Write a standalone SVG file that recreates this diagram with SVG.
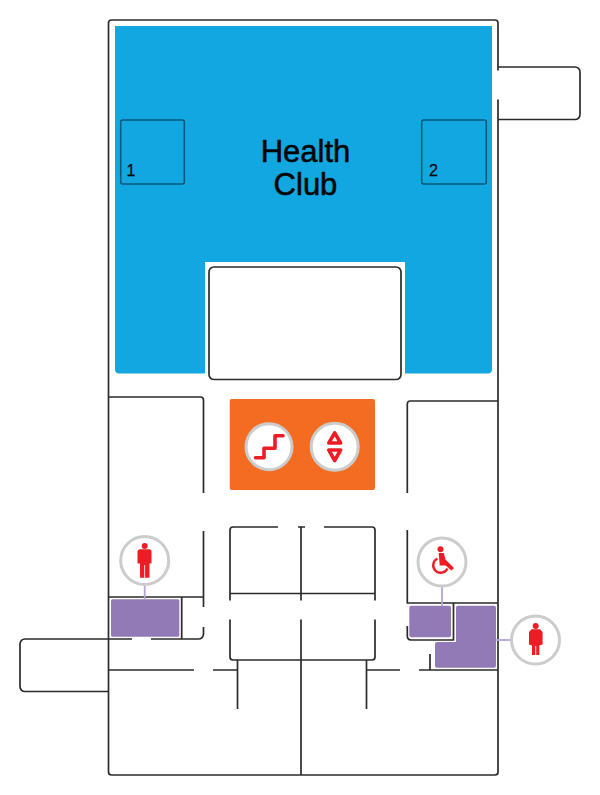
<svg xmlns="http://www.w3.org/2000/svg" width="600" height="795" viewBox="0 0 600 795">
<style>
.w{fill:none;stroke:#2b2b2b;stroke-width:1.7;stroke-linejoin:round}
.c{fill:#fff;stroke:#cccccc;stroke-width:3}
.r{fill:#ee1c25}
.l{fill:none;stroke:#ee1c25;stroke-width:3.600;stroke-linejoin:round;stroke-linecap:round}
.p{fill:#927ab7}
.k{fill:none;stroke:#b5a5d3;stroke-width:1.8}
.t{font-family:"Liberation Sans",Arial,sans-serif;fill:#050505;stroke:#050505}
.b{fill:none;stroke:#0b5876;stroke-width:1.5}
</style>
<rect width="600" height="795" fill="#fff"/>
<g id="health-club">
<path d="M115 26H492V369a4 4 0 0 1-4 4.500H405V262H205V373.500H119a4 4 0 0 1-4-4.500Z" fill="#12a7e0"/>
<rect class="b" x="120.700" y="120" width="63.600" height="64" rx="2"/>
<rect class="b" x="421.700" y="120" width="64.600" height="64" rx="2"/>
<text class="t" x="126.500" y="176" font-size="16" stroke-width="0.250">1</text>
<text class="t" x="429" y="176" font-size="16" stroke-width="0.250">2</text>
<text class="t" x="305.500" y="162" font-size="31" text-anchor="middle" stroke-width="0.550">Health</text>
<text class="t" x="305.500" y="195" font-size="31" text-anchor="middle" stroke-width="0.550">Club</text>
</g>
<g id="walls">
<path class="w" d="M498 70.500V23a3 3 0 0 0-3-3H111.500a3 3 0 0 0-3 3V772a3 3 0 0 0 3 3H495a3 3 0 0 0 3-3V99.500"/>
<path class="w" d="M498 67H575a5 5 0 0 1 5 5V114.500a5 5 0 0 1-5 5H498"/>
<path class="w" d="M108 639H25a5 5 0 0 0-5 5V686.500a5 5 0 0 0 5 5H108"/>
<rect class="w" x="209" y="267" width="192" height="112.500" rx="5"/>
<path class="w" d="M108.500 397H200.500a3 3 0 0 1 3 3V493"/>
<path class="w" d="M203.500 531V607M108.500 597H203.500M181.700 597V639M108.500 639H132M151 639H198.500a5 5 0 0 0 5-5V627"/>
<path class="w" d="M108.500 670H194M213 670H237.500" stroke-width="2.200"/>
<path class="w" d="M237.500 660V709"/>
<path class="w" d="M230 600.500V530a3 3 0 0 1 3-3H278M298 527H305M324 527H372a3 3 0 0 1 3 3V600.500"/>
<path class="w" d="M230 593.500H375M230 619.500V657a3 3 0 0 0 3 3H372a3 3 0 0 0 3-3V619.500"/>
<path class="w" d="M301 527V600.500M301 619.500V775"/>
<path class="w" d="M366.500 660V709M366.500 670H400M419 670H498M430 654V670"/>
<path class="w" d="M407.300 493V404a3 3 0 0 1 3-3H498"/>
<path class="w" d="M407.300 530V603H498M453.500 603V640H411a4 4 0 0 1-3.700-4V626"/>
</g>
<g id="core">
<rect x="229.700" y="399" width="145.300" height="91" rx="2" fill="#f36c21"/>
</g>
<g id="stairs">
<circle class="c" cx="269" cy="446.700" r="23"/>
<path class="l" d="M255.500 457.700H264V448.300H275V435.700H283"/>
</g>
<g id="lift">
<circle class="c" cx="334.700" cy="446.700" r="23.500"/>
<path class="l" d="M334.700 432.800L328.800 443H340.600ZM328.800 450H340.600L334.700 460.500Z"/>
</g>
<g id="mens-room">
<rect class="p" x="111" y="599.300" width="68.300" height="37.500" rx="1.500"/>
<path class="k" d="M144.700 585V599"/>
<circle class="c" cx="144.700" cy="560.500" r="24"/>
<circle class="r" cx="144.700" cy="546" r="3"/>
<path class="r" d="M140.500 549.300H149A2.500 2.500 0 0 1 151.500 552V563.500H149.500V577.800H145.100V565H144.300V577.800H140V563.500H137.500V552A2.800 2.800 0 0 1 140.500 549.300Z"/>
</g>
<g id="accessible-room">
<rect class="p" x="409.300" y="605.700" width="41.700" height="31.600" rx="2"/>
<path class="k" d="M442 586V606"/>
<circle class="c" cx="442" cy="562" r="24"/>
<circle class="r" cx="440.500" cy="549.300" r="3"/>
<path class="r" d="M438.700 553H443.800L445.500 559.500L447.500 561.500L454 568L451.500 570.500L445.500 565.500H439.700Z"/>
<path fill="none" stroke="#ee1c25" stroke-width="2.400" d="M437.500 558.500A7.500 7.500 0 1 0 447.500 568.500"/>
</g>
<g id="womens-room">
<path class="p" d="M458 605.700H494a2 2 0 0 1 2 2V665.700a2 2 0 0 1-2 2H437a2 2 0 0 1-2-2V644a2 2 0 0 1 2-2H456V607.700a2 2 0 0 1 2-2Z"/>
<path class="k" d="M496 640H512"/>
<circle class="c" cx="535.500" cy="640" r="24"/>
<circle class="r" cx="535.700" cy="626" r="3"/>
<path class="r" d="M531.500 629.300H540L542.600 632V644.500L539.300 645.500V655H536.200V646H535.300V655H532V645.500L529 644.500V632Z"/>
</g>
</svg>
